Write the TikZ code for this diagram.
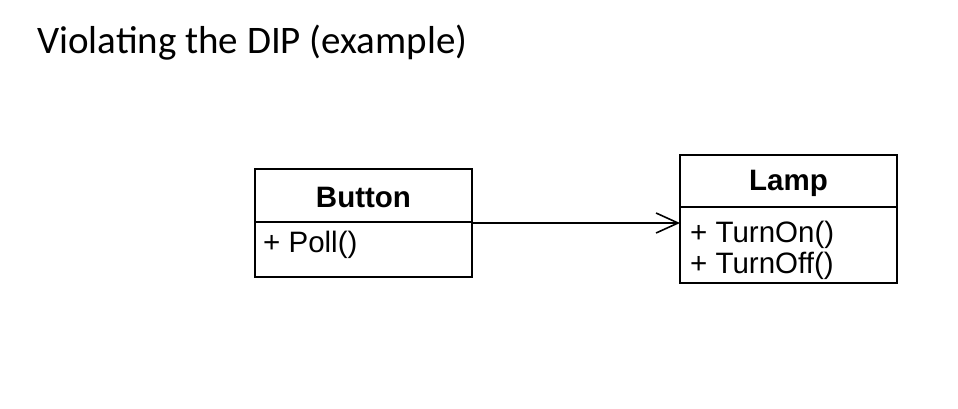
\documentclass[tikz,border=0pt]{standalone}
\usepackage{fontspec}
\setmainfont{Liberation Sans}
\newfontfamily\titlefont{Carlito}
\usetikzlibrary{arrows.meta}
\begin{document}
\begin{tikzpicture}[x=1pt,y=-1pt,
  umlbox/.style={draw=black,line width=2.6pt,fill=white,rectangle,inner sep=0pt,outer sep=0pt},
  hdr/.style={font=\fontsize{29.5}{34}\selectfont\bfseries,inner sep=0pt},
  mem/.style={font=\fontsize{29.5}{34}\selectfont,inner sep=0pt,anchor=west},
  conn/.style={line width=2.2pt,-{Straight Barb[length=22pt,width=20pt,line width=1.6pt]}}]
\path[use as bounding box,fill=white] (0,0) rectangle (958,408);
\node[font=\titlefont\fontsize{39}{46}\selectfont,anchor=west,inner sep=0pt] (title) at (37,43) {Violating the DIP (example)};
% Button
\node[umlbox,minimum width=217pt,minimum height=108pt] (button) at (363.5,223) {};
\draw[line width=2.6pt] (button.west |- 0,222) coordinate (bdl) -- (button.east |- 0,222) coordinate (bdr);
\node[hdr] (bname) at (363.5,197) {Button};
\node[mem] (bpoll) at (263,245) {+ Poll()};
% Lamp
\node[umlbox,minimum width=217pt,minimum height=128pt] (lamp) at (788.5,219) {};
\draw[line width=2.6pt] (lamp.west |- 0,207) coordinate (ldl) -- (lamp.east |- 0,207) coordinate (ldr);
\node[hdr] (lname) at (788.5,183) {Lamp};
\node[mem] (lon) at (690,235) {+ TurnOn()};
\node[mem] (loff) at (690,266) {+ TurnOff()};
% connector
\draw[conn] (button.east) -- (lamp.west |- button.east);
\end{tikzpicture}
\end{document}
